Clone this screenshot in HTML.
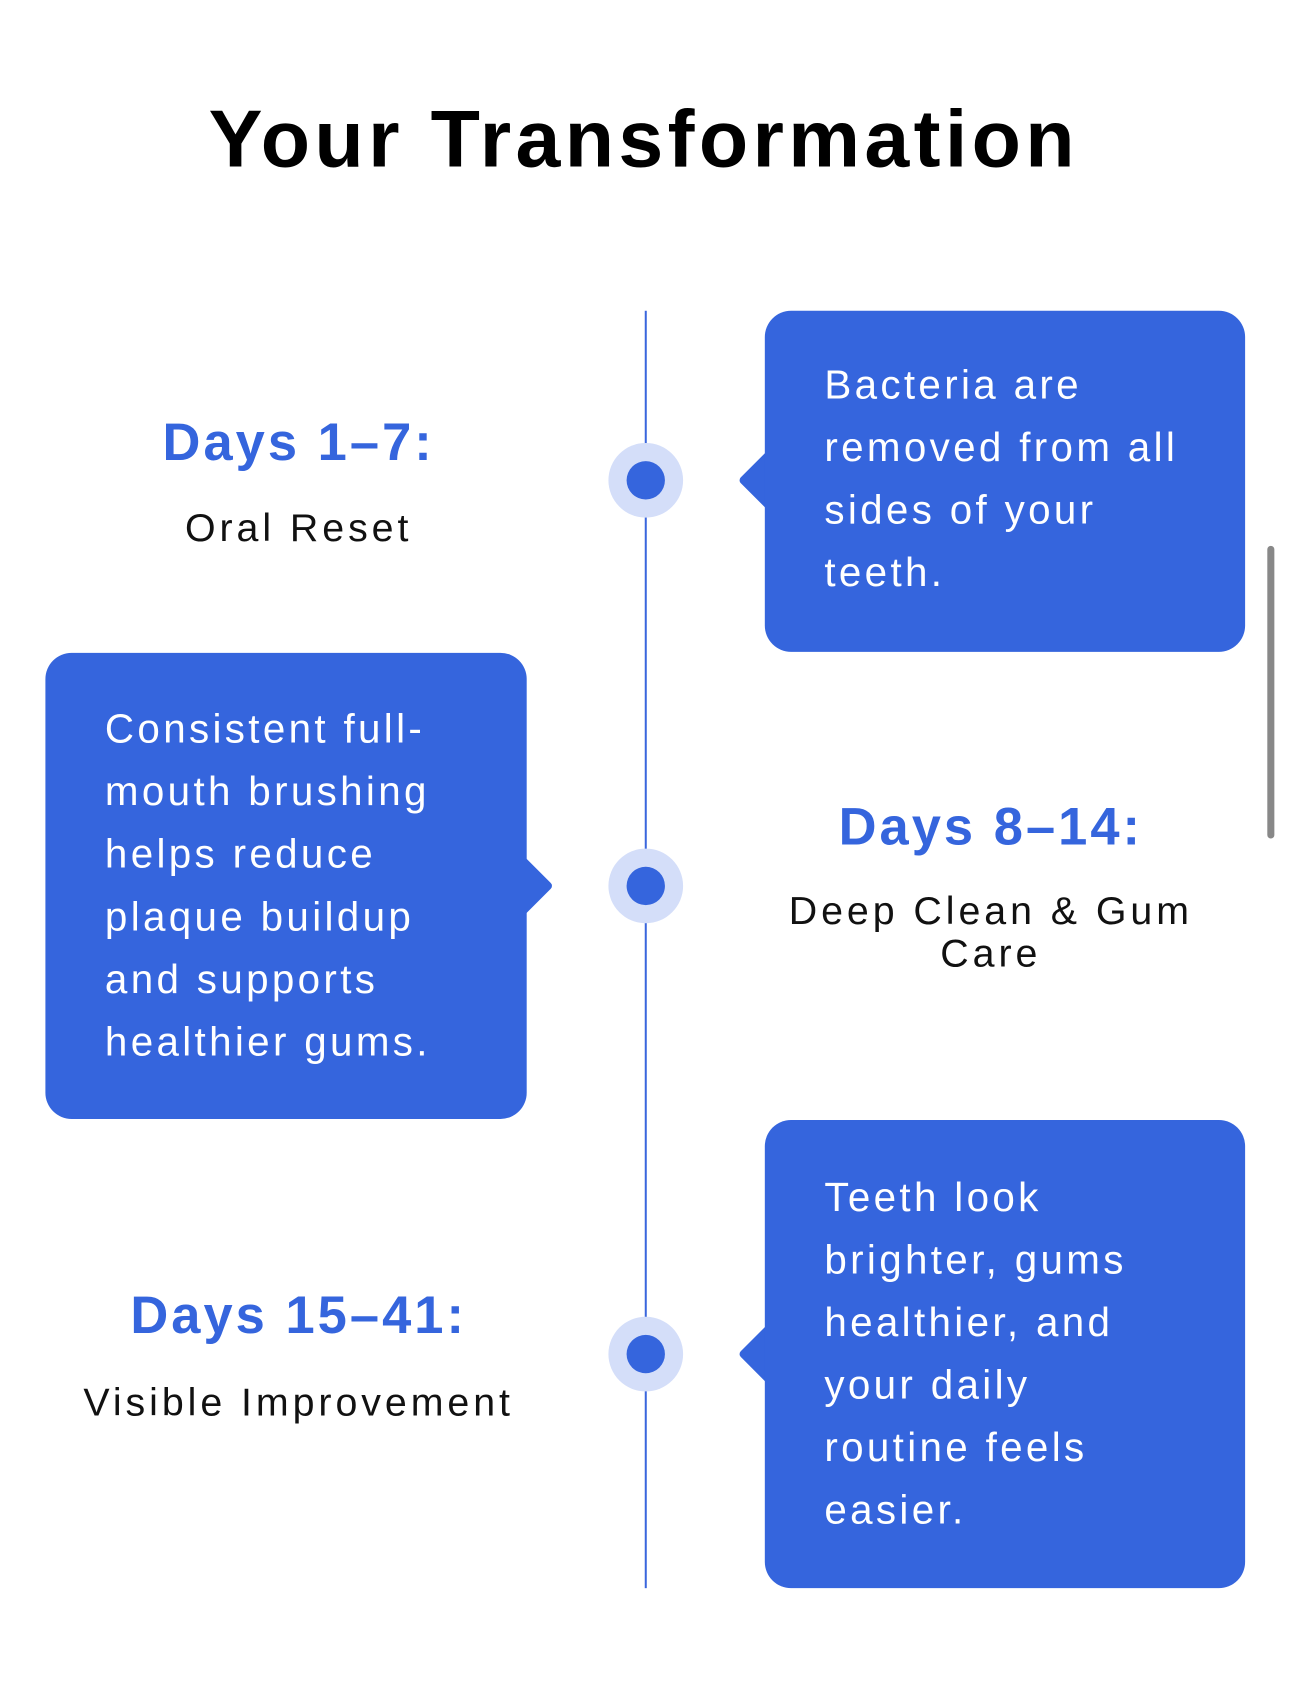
<!DOCTYPE html>
<html><head><meta charset="utf-8"><style>
html,body{margin:0;padding:0;background:#fff;width:1290px;height:1700px;overflow:hidden;position:relative;font-family:"Liberation Sans",Arial,sans-serif}
#w{position:absolute;left:0;top:0;width:1290px;height:1700px;transform:scale(1.009);transform-origin:0 0}
.a{position:absolute}
.title{left:-7px;width:1290px;top:98px;text-align:center;font-size:80px;line-height:80px;font-weight:bold;letter-spacing:4.3px;color:#000}
.line{left:639px;top:308px;width:2px;height:1266px;background:#3a66dd}
.ring{width:74px;height:74px;border-radius:50%;background:#d4def9;left:603px}
.dot{width:38px;height:38px;border-radius:50%;background:#3565dd;left:18px;top:18px}
.box{background:#3565dd;border-radius:26px;color:#fff;font-size:40px;line-height:62px;letter-spacing:3.3px;box-sizing:border-box}
.ptr{width:42px;height:42px;background:#3565dd;transform:rotate(45deg);border-radius:4px}
.h{text-align:center;font-weight:bold;color:#3565dd;font-size:52px;line-height:52px;letter-spacing:3px;width:600px}
.s{text-align:center;color:#111;font-size:39px;line-height:42px;letter-spacing:3.9px;width:600px}
</style></head><body><div id="w">
<div class="a title">Your Transformation</div>
<div class="a line"></div>

<div class="a ring" style="top:439px"><div class="a dot"></div></div>
<div class="a ring" style="top:841px"><div class="a dot"></div></div>
<div class="a ring" style="top:1305px"><div class="a dot"></div></div>

<div class="a ptr" style="left:740px;top:455px"></div>
<div class="a box" style="left:758px;top:308px;width:476px;height:338px"></div>
<div class="a box" style="left:817px;top:351px;width:415px;background:none">Bacteria are<br>removed from all<br>sides of your<br>teeth.</div>

<div class="a ptr" style="left:498px;top:857px"></div>
<div class="a box" style="left:45px;top:647px;width:477px;height:462px"></div>
<div class="a box" style="left:104px;top:692px;width:415px;background:none">Consistent full-<br>mouth brushing<br>helps reduce<br>plaque buildup<br>and supports<br>healthier gums.</div>

<div class="a ptr" style="left:740px;top:1321px"></div>
<div class="a box" style="left:758px;top:1110px;width:476px;height:464px"></div>
<div class="a box" style="left:817px;top:1156px;width:415px;background:none">Teeth look<br>brighter, gums<br>healthier, and<br>your daily<br>routine feels<br>easier.</div>

<div class="a h" style="left:-4px;top:413px">Days 1–7:</div>
<div class="a s" style="left:-4px;top:503px">Oral Reset</div>
<div class="a h" style="left:682px;top:794px">Days 8–14:</div>
<div class="a s" style="left:682px;top:883px">Deep Clean &amp; Gum<br>Care</div>
<div class="a h" style="left:-4px;top:1278px">Days 15–41:</div>
<div class="a s" style="left:-4px;top:1370px">Visible Improvement</div>

<div class="a" style="left:1256px;top:541px;width:7px;height:290px;border-radius:4px;background:#888"></div>
</div></body></html>
